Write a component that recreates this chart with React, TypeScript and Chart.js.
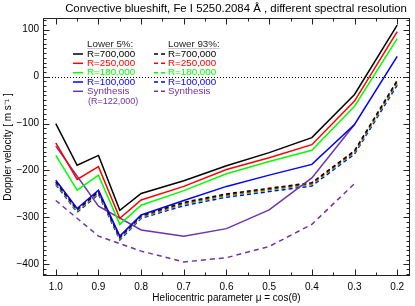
import React, { useEffect, useRef } from "react";
import { Chart, registerables } from "chart.js";
Chart.register(...registerables);

const FONT = '"Liberation Sans", Arial, Helvetica, sans-serif';

// Heliocentric positions
const MU = [1.0, 0.95, 0.9, 0.85, 0.8, 0.7, 0.6, 0.5, 0.4, 0.3, 0.2];
const MU_SYN = [1.0, 0.9, 0.8, 0.7, 0.6, 0.5, 0.4, 0.3];

// Lower 5% (solid)
const LOW5_700 = [-100, -189, -168, -285, -249, -222, -190, -162, -130, -38, 110];
const LOW5_250 = [-141, -219, -192, -302, -263, -234, -198, -173, -145, -52, 96];
const LOW5_180 = [-168, -242, -210, -315, -274, -243, -207, -181, -157, -63, 81];
const LOW5_100 = [-221, -281, -242, -340, -295, -264, -234, -210, -187, -102, 43];
const LOW5_SYN = [-148, -276, -327, -340, -324, -284, -216, -102];

// Lower 93% (dashed)
const LOW93_700 = [-224, -283, -245, -342, -296, -268, -250, -238, -226, -158, -8];
const LOW93_250 = [-226, -285, -247, -344, -298, -270, -252, -240, -228, -160, -11];
const LOW93_180 = [-228, -287, -249, -346, -300, -272, -254, -242, -230, -162, -14];
const LOW93_100 = [-230, -289, -251, -348, -302, -275, -257, -245, -233, -165, -18];
const LOW93_SYN = [-264, -340, -372, -395, -386, -362, -315, -228];

const X_TICKS = [1.0, 0.9, 0.8, 0.7, 0.6, 0.5, 0.4, 0.3, 0.2];
const X_LABELS = ["1.0", "0.9", "0.8", "0.7", "0.6", "0.5", "0.4", "0.3", "0.2"];
const Y_TICKS = [100, 0, -100, -200, -300, -400];
const Y_LABELS = ["100", "0", "\u2212100", "\u2212200", "\u2212300", "\u2212400"];

const TITLE = "Convective blueshift, Fe I 5250.2084 \u00C5 , different spectral resolution";
const X_TITLE = "Heliocentric parameter \u03BC = cos(\u03B8)";
const Y_TITLE = "Doppler velocity [ m s\u207B\u00B9 ]";
const HEAD_LEFT = "Lower 5%:";
const HEAD_RIGHT = "Lower 93%:";
const SYN_NOTE = "(R=122,000)";

const BLACK = "#000000";
const RED = "#ff0000";
const GREEN = "#00ff00";
const BLUE = "#0000ff";
const PURPLE = "rgb(108,52,168)";

export default function App() {
  const ref = useRef<HTMLCanvasElement>(null);
  useEffect(() => {
    const canvas = ref.current!;
    const mk = (xs: number[], ys: number[]) => xs.map((x, i) => ({ x, y: ys[i] }));
    const solid: number[] = [];
    const dash = [4, 3];
    const ds = (label: string, col: string, xs: number[], ys: number[], d: number[], group: string) => ({
      label,
      group,
      data: mk(xs, ys),
      borderColor: col,
      backgroundColor: col,
      borderWidth: 1.5,
      borderDash: d,
      showLine: true,
      fill: false,
      pointRadius: 0,
      tension: 0,
    });
    const datasets: any[] = [
      ds("R=700,000", BLACK, MU, LOW5_700, solid, "l"),
      ds("R=250,000", RED, MU, LOW5_250, solid, "l"),
      ds("R=180,000", GREEN, MU, LOW5_180, solid, "l"),
      ds("R=100,000", BLUE, MU, LOW5_100, solid, "l"),
      ds("Synthesis", PURPLE, MU_SYN, LOW5_SYN, solid, "l"),
      ds("R=700,000", BLACK, MU, LOW93_700, dash, "r"),
      ds("R=250,000", RED, MU, LOW93_250, dash, "r"),
      ds("R=180,000", GREEN, MU, LOW93_180, dash, "r"),
      ds("R=100,000", BLUE, MU, LOW93_100, dash, "r"),
      ds("Synthesis", PURPLE, MU_SYN, LOW93_SYN, [5, 4], "r"),
    ];

    const plugin = {
      id: "idlframe",
      beforeDatasetsDraw(chart: any) {
        const { ctx, chartArea: a, scales } = chart;
        const y0 = Math.round(scales.y.getPixelForValue(0)) + 0.5;
        ctx.save();
        ctx.strokeStyle = "#000";
        ctx.lineWidth = 1;
        ctx.setLineDash([1, 2]);
        ctx.beginPath();
        ctx.moveTo(a.left, y0);
        ctx.lineTo(a.right, y0);
        ctx.stroke();
        ctx.restore();
      },
      afterDraw(chart: any) {
        const { ctx, chartArea: a, scales } = chart;
        const xs = scales.x;
        const ys = scales.y;
        ctx.save();
        ctx.setLineDash([]);
        ctx.strokeStyle = "#222";
        ctx.lineWidth = 1;
        const L = Math.round(a.left) + 0.5;
        const R = Math.round(a.right) - 0.5;
        const T = Math.round(a.top) + 0.5;
        const B = Math.round(a.bottom) - 0.5;
        ctx.strokeRect(L, T, R - L, B - T);
        ctx.beginPath();
        for (let k = 2; k <= 20; k++) {
          const v = k * 0.05;
          const px = Math.round(xs.getPixelForValue(v)) + 0.5;
          if (px < L || px > R) continue;
          const len = k % 2 === 0 ? 6 : 3;
          ctx.moveTo(px, B);
          ctx.lineTo(px, B - len);
          ctx.moveTo(px, T);
          ctx.lineTo(px, T + len);
        }
        for (let v = -420; v <= 120; v += 10) {
          const py = Math.round(ys.getPixelForValue(v)) + 0.5;
          const len = v % 100 === 0 ? 6 : 3;
          ctx.moveTo(L, py);
          ctx.lineTo(L + len, py);
          ctx.moveTo(R, py);
          ctx.lineTo(R - len, py);
        }
        ctx.stroke();

        ctx.fillStyle = "#000";
        ctx.font = `10px ${FONT}`;
        ctx.textAlign = "center";
        ctx.textBaseline = "middle";
        X_TICKS.forEach((v, i) => {
          ctx.fillText(X_LABELS[i], xs.getPixelForValue(v), a.bottom + 11);
        });
        ctx.textAlign = "right";
        Y_TICKS.forEach((v, i) => {
          ctx.fillText(Y_LABELS[i], a.left - 4, ys.getPixelForValue(v));
        });
        ctx.textAlign = "center";
        ctx.fillText(X_TITLE, (a.left + a.right) / 2, a.bottom + 22);
        ctx.save();
        ctx.translate(8, (a.top + a.bottom) / 2);
        ctx.rotate(-Math.PI / 2);
        ctx.fillText(Y_TITLE, 0, 0);
        ctx.restore();

        ctx.font = `11.4px ${FONT}`;
        ctx.fillText(TITLE, 236, 9);

        // legend
        const dsets = chart.data.datasets;
        const rowsY = [54, 63.3, 72.7, 82, 91.3];
        ctx.font = `9.8px ${FONT}`;
        ctx.textAlign = "left";
        const drawCol = (group: string, lx0: number, lx1: number, tx: number, head: string) => {
          ctx.fillStyle = "#222";
          ctx.fillText(head, tx, 44);
          const w = ctx.measureText(head).width;
          ctx.strokeStyle = "#c8c8c8";
          ctx.lineWidth = 1;
          ctx.setLineDash([]);
          ctx.beginPath();
          ctx.moveTo(tx, 48.5);
          ctx.lineTo(tx + w, 48.5);
          ctx.stroke();
          const items = dsets.filter((d: any) => d.group === group);
          items.forEach((d: any, i: number) => {
            const y = rowsY[i];
            ctx.strokeStyle = d.borderColor;
            ctx.lineWidth = 1.5;
            ctx.setLineDash(d.borderDash.length ? [4, 3] : []);
            ctx.beginPath();
            ctx.moveTo(lx0, y);
            ctx.lineTo(lx1, y);
            ctx.stroke();
            ctx.fillStyle = d.borderColor;
            ctx.fillText(d.label, tx, y);
          });
        };
        drawCol("l", 73, 83, 87, HEAD_LEFT);
        drawCol("r", 154, 165, 168, HEAD_RIGHT);
        ctx.setLineDash([]);
        ctx.fillStyle = PURPLE;
        ctx.font = `9px ${FONT}`;
        ctx.fillText(SYN_NOTE, 88, 101.5);
        ctx.restore();
      },
    };

    const chart = new Chart(canvas, {
      type: "scatter",
      data: { datasets },
      options: {
        animation: false,
        responsive: false,
        maintainAspectRatio: false,
        layout: { padding: { left: 43, right: 5, top: 18, bottom: 30 } },
        plugins: { legend: { display: false }, tooltip: { enabled: false }, title: { display: false } },
        scales: {
          x: { type: "linear", min: 0.17, max: 1.03, reverse: true, display: false },
          y: { type: "linear", min: -425, max: 125, display: false },
        },
      },
      plugins: [plugin],
    } as any);
    return () => chart.destroy();
  }, []);
  return (
    <div style={{ position: "fixed", left: 0, top: 0, width: 415, height: 306, background: "#fff" }}>
      <canvas ref={ref} width={415} height={306} style={{ width: 415, height: 306, display: "block" }} />
    </div>
  );
}
